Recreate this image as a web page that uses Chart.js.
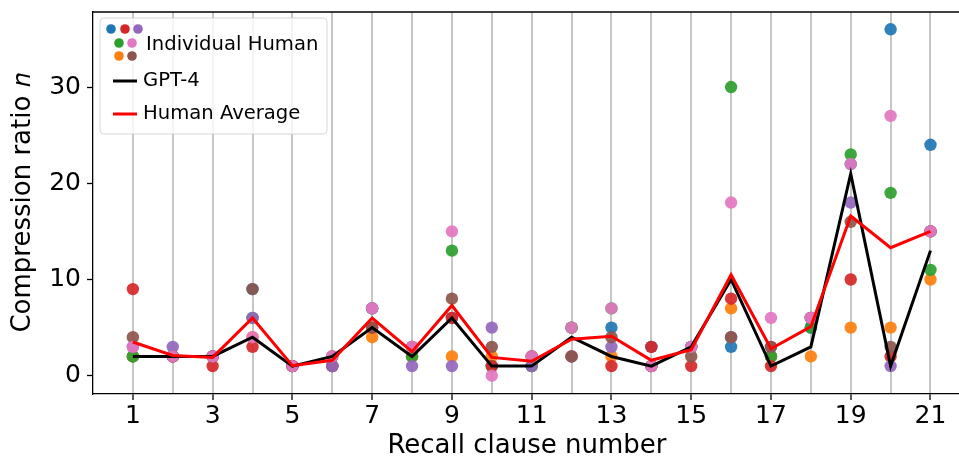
<!DOCTYPE html>
<html>
<head>
<meta charset="utf-8">
<script src="https://cdn.jsdelivr.net/npm/chart.js@4.4.1/dist/chart.umd.min.js"></script>
<style>
  html, body { margin: 0; padding: 0; background: #fff; overflow: hidden; }
  #wrap { width: 959px; height: 462px; overflow: hidden; }
</style>
</head>
<body>
<!-- the figure is cut at the right edge, so the canvas runs a little past the window -->
<div id="wrap"><canvas id="compressionChart" width="967" height="462"></canvas></div>
<script>
// recall clauses and tick labels
var clauses = [1, 2, 3, 4, 5, 6, 7, 8, 9, 10, 11, 12, 13, 14, 15, 16, 17, 18, 19, 20, 21];
var xTickLabels = [1, 3, 5, 7, 9, 11, 13, 15, 17, 19, 21];
var yTickLabels = [0, 10, 20, 30];

// compression ratio per clause
var gpt4 = [2, 2, 2, 4, 1, 2, 5, 2, 6, 1, 1, 4, 2, 1, 3, 10, 1, 3, 21, 1, 13];
var humanAverage = [3.5, 2.1, 1.9, 6.0, 1.05, 1.6, 6.0, 2.5, 7.3, 1.9, 1.5, 3.8, 4.1, 1.6, 2.7, 10.5, 2.8, 5.1, 16.6, 13.3, 15.0];

// individual humans
var humanBlue   = [2, 2, 2, 9, 1, 1, 7, 2, 6, 1, 1, 5, 5, 3, 3, 3, 2, 5, 22, 36, 24];
var humanOrange = [2, 2, 2, 4, 1, 2, 4, 2, 2, 2, 1, 5, 2, 1, 3, 7, 2, 2, 5, 5, 10];
var humanGreen  = [2, 2, 2, 6, 1, 1, 7, 2, 13, 1, 1, 5, 7, 1, 3, 30, 2, 5, 23, 19, 11];
var humanRed    = [9, 2, 1, 3, 1, 1, 5, 3, 6, 1, 2, 2, 1, 3, 1, 8, 1, 6, 10, 2, 15];
var humanPurple = [3, 3, 2, 6, 1, 1, 7, 1, 1, 5, 1, 2, 3, 1, 3, 4, 3, 6, 18, 1, 15];
var humanBrown  = [4, 2, 2, 9, 1, 2, 5, 3, 8, 3, 2, 2, 4, 1, 2, 4, 3, 6, 16, 3, 15];
var humanPink   = [3, 2, 2, 4, 1, 2, 7, 3, 15, 0, 2, 5, 7, 1, 3, 18, 6, 6, 22, 27, 15];

var fontName = "'DejaVu Sans', sans-serif";

function toPoints(values) {
  return clauses.map((c, i) => ({ x: c, y: values[i] }));
}

function scatterSet(values, color, order) {
  return {
    type: 'scatter',
    data: toPoints(values),
    pointRadius: 6.2,
    pointHoverRadius: 6.2,
    pointBorderWidth: 0,
    pointBackgroundColor: color,
    order: order
  };
}

function lineSet(values, color, order) {
  return {
    type: 'line',
    data: toPoints(values),
    borderColor: color,
    borderWidth: 3,
    pointRadius: 0,
    fill: false,
    tension: 0,
    order: order
  };
}

// no label overflow padding: the plot area is fixed by the figure
function noScalePadding(axis) {
  axis.paddingLeft = 0;
  axis.paddingRight = 0;
  axis.paddingTop = 0;
  axis.paddingBottom = 0;
  axis.getPadding = function () {
    return { left: 0, top: 0, right: 0, bottom: 0 };
  };
}

var frameAndLegend = {
  id: 'frameAndLegend',
  afterDraw: function (chart) {
    var ctx = chart.ctx;
    var area = chart.chartArea;
    ctx.save();
    // top spine
    ctx.strokeStyle = '#000';
    ctx.lineWidth = 1.3;
    ctx.beginPath();
    ctx.moveTo(area.left, area.top);
    ctx.lineTo(area.right, area.top);
    ctx.stroke();

    // legend box
    var bx = 100, by = 18, bw = 227, bh = 116, r = 4;
    ctx.beginPath();
    ctx.moveTo(bx + r, by);
    ctx.arcTo(bx + bw, by, bx + bw, by + bh, r);
    ctx.arcTo(bx + bw, by + bh, bx, by + bh, r);
    ctx.arcTo(bx, by + bh, bx, by, r);
    ctx.arcTo(bx, by, bx + bw, by, r);
    ctx.closePath();
    ctx.fillStyle = 'rgba(255,255,255,0.8)';
    ctx.fill();
    ctx.strokeStyle = '#d6d6d6';
    ctx.lineWidth = 1;
    ctx.stroke();

    // dots handle
    var dots = [
      [111, 29, '#1f77b4'], [125, 29, '#d62728'], [138, 29, '#9467bd'],
      [119, 43, '#2ca02c'], [132, 43, '#e377c2'],
      [119, 56, '#ff7f0e'], [132, 56, '#8c564b']
    ];
    dots.forEach(function (d) {
      ctx.beginPath();
      ctx.arc(d[0], d[1], 4.8, 0, Math.PI * 2);
      ctx.fillStyle = d[2];
      ctx.fill();
    });

    ctx.lineWidth = 3;
    ctx.strokeStyle = '#000';
    ctx.beginPath();
    ctx.moveTo(113, 81);
    ctx.lineTo(137, 81);
    ctx.stroke();
    ctx.strokeStyle = '#ff0000';
    ctx.beginPath();
    ctx.moveTo(113, 114);
    ctx.lineTo(137, 114);
    ctx.stroke();

    ctx.fillStyle = '#000';
    ctx.font = '19.6px ' + fontName;
    ctx.textBaseline = 'middle';
    ctx.textAlign = 'left';
    ctx.fillText('Individual Human', 146, 45);
    ctx.fillText('GPT-4', 143, 81);
    ctx.fillText('Human Average', 143, 114);
    ctx.restore();
  }
};

var compressionChart = new Chart(
  document.getElementById('compressionChart'),
  {
    type: 'scatter',
    data: {
      datasets: [
        lineSet(humanAverage, '#ff0000', 0),
        lineSet(gpt4, '#000000', 1),
        scatterSet(humanPink, 'rgba(227,119,194,0.92)', 2),
        scatterSet(humanBrown, 'rgba(140,86,75,0.92)', 3),
        scatterSet(humanPurple, 'rgba(148,103,189,0.92)', 4),
        scatterSet(humanRed, 'rgba(214,39,40,0.92)', 5),
        scatterSet(humanGreen, 'rgba(44,160,44,0.92)', 6),
        scatterSet(humanOrange, 'rgba(255,127,14,0.92)', 7),
        scatterSet(humanBlue, 'rgba(31,119,180,0.92)', 8)
      ]
    },
    options: {
      responsive: false,
      animation: false,
      layout: { padding: { top: 12, right: 0, left: 0, bottom: 0 } },
      plugins: {
        legend: { display: false },
        tooltip: { enabled: false }
      },
      scales: {
        x: {
          type: 'linear',
          min: 0,
          max: 21.76,
          afterBuildTicks: function (axis) {
            axis.ticks = clauses.map(v => ({ value: v }));
          },
          afterFit: function (axis) {
            axis.height = 68;
            noScalePadding(axis);
          },
          ticks: {
            autoSkip: false,
            maxRotation: 0,
            padding: 1,
            color: '#000',
            font: { family: fontName, size: 25 },
            callback: v => xTickLabels.includes(v) ? String(v) : ''
          },
          grid: {
            color: '#c6c6c6',
            lineWidth: 2,
            tickLength: 6,
            tickWidth: 1.3,
            tickColor: ctx => (ctx.tick && xTickLabels.includes(ctx.tick.value)) ? '#000' : 'rgba(0,0,0,0)'
          },
          border: { display: true, color: '#000', width: 1.3 },
          title: {
            display: true,
            text: 'Recall clause number',
            color: '#000',
            font: { family: fontName, size: 26 },
            padding: { top: 0, bottom: 0 }
          }
        },
        y: {
          min: -1.9,
          max: 37.8,
          afterBuildTicks: function (axis) {
            axis.ticks = yTickLabels.map(v => ({ value: v }));
          },
          afterFit: function (axis) {
            axis.width = 93;
            noScalePadding(axis);
          },
          ticks: {
            padding: 6,
            color: '#000',
            font: { family: fontName, size: 25 }
          },
          grid: {
            drawOnChartArea: false,
            tickLength: 6,
            tickWidth: 1.3,
            tickColor: '#000'
          },
          border: { display: true, color: '#000', width: 1.3 },
          title: {
            display: true,
            text: 'Compression ratio \uD835\uDC5B',
            color: '#000',
            font: { family: fontName, size: 26 },
            padding: { top: 8, bottom: 0 }
          }
        }
      }
    },
    plugins: [frameAndLegend]
  }
);
</script>
</body>
</html>
